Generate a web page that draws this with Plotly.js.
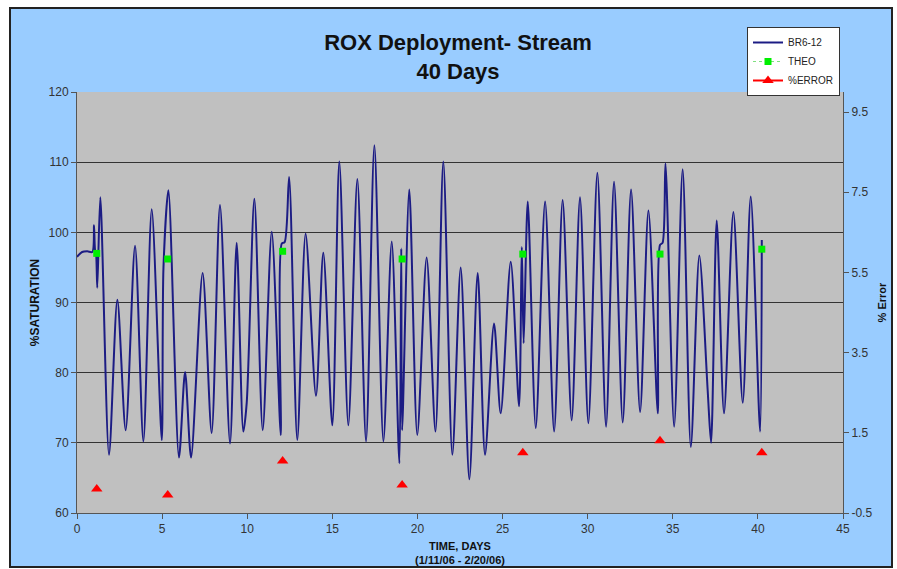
<!DOCTYPE html>
<html><head><meta charset="utf-8">
<script src="https://cdn.plot.ly/plotly-3.0.1.min.js"></script>
<style>
html,body{margin:0;padding:0;background:#fff;}
#frame{position:absolute;left:9px;top:7px;width:880px;height:557px;background:#99ccff;border:2px solid #222;}
#chart{position:absolute;left:0;top:0;width:897px;height:569px;}
</style></head><body>
<div id="frame"></div>
<div id="chart"></div>
<script>
// BR6-12 sensor reading (% saturation) vs time in days
const days = [0.0, 0.3, 0.6, 0.9, 1.0, 1.06, 1.12, 1.19, 1.37, 1.88, 2.37, 2.86, 3.41, 3.90, 4.39, 4.98, 5.08, 5.37,
  5.99, 6.35, 6.70, 7.38, 7.91, 8.40, 8.99, 9.38, 9.77, 9.97, 10.42, 10.91, 11.44, 11.97, 12.03, 12.2, 12.46, 12.94,
  13.43, 14.04, 14.47, 15.0, 15.41, 15.94, 16.47, 16.98, 17.47, 18.0, 18.49, 18.94, 19.05, 19.1, 19.52, 19.99, 20.54,
  21.06, 21.52, 22.05, 22.54, 23.05, 23.54, 23.97, 24.5, 24.89, 25.48, 25.97, 26.13, 26.24, 26.48, 26.95, 27.5, 28.03,
  28.53, 29.06, 29.55, 30.04, 30.57, 31.08, 31.55, 32.06, 32.55, 33.08, 33.57, 34.12, 34.25, 34.4, 34.57, 35.08, 35.58,
  36.06, 36.56, 37.05, 37.25, 37.58, 38.01, 38.56, 39.11, 39.58, 40.13, 40.23];
const saturation = [96.5, 97.2, 97.3, 97.2, 101.0, 97.5, 97.0, 92.1, 105.0, 68.3, 90.4, 71.8, 98.1, 70.2, 103.3, 70.4, 95.0, 106.0,
  67.9, 80.1, 67.9, 94.2, 71.4, 103.9, 69.9, 98.5, 71.6, 75.7, 104.8, 71.8, 100.1, 71.1, 98.4, 98.6, 107.9, 70.4,
  99.8, 76.7, 97.1, 72.5, 110.1, 72.5, 107.6, 70.2, 112.4, 70.2, 98.7, 67.1, 97.7, 71.8, 106.1, 71.1, 96.4,
  71.6, 110.1, 68.3, 95.0, 64.8, 94.2, 68.3, 87.0, 74.2, 95.8, 75.2, 97.9, 84.2, 104.4, 72.1, 104.4, 71.6,
  104.6, 73.2, 105.0, 72.8, 108.5, 72.3, 107.2, 72.9, 106.1, 74.4, 103.1, 74.2, 98.2, 98.5, 109.8, 72.3, 109.0,
  69.4, 96.7, 77.5, 70.0, 101.7, 74.2, 102.9, 75.7, 105.1, 71.6, 98.9];
// Theoretical saturation check points and % error
const checkDays = [1.16, 5.33, 12.08, 19.1, 26.19, 34.25, 40.23];
const theoValues = [97.0, 96.2, 97.3, 96.2, 96.9, 96.9, 97.6];
const errorValues = [0.1, -0.05, 0.8, 0.2, 1.0, 1.3, 1.0];
const xTicks = [0, 5, 10, 15, 20, 25, 30, 35, 40, 45];
const yTicks = [60, 70, 80, 90, 100, 110, 120];
const y2Ticks = [-0.5, 1.5, 3.5, 5.5, 7.5, 9.5];

// isolated points (gap after each so no connecting line, but legend shows line+marker)
function isolate(xs, ys) {
  const ox = [], oy = [];
  xs.forEach((x, i) => { ox.push(x); oy.push(ys[i]); ox.push(x + 0.001); oy.push(null); });
  return {x: ox, y: oy};
}
const theo = isolate(checkDays, theoValues);
const err = isolate(checkDays, errorValues);

const FONT = 'Arial, "Liberation Sans", sans-serif';
const traces = [
  {x: days, y: saturation, type: 'scatter', mode: 'lines', name: 'BR6-12',
   line: {color: '#1c1c84', width: 2, shape: 'spline', smoothing: 0.8}},
  {x: theo.x, y: theo.y, type: 'scatter', mode: 'lines+markers', name: 'THEO', connectgaps: false,
   line: {color: '#80e080', width: 1, dash: 'dot'}, marker: {symbol: 'square', color: '#00ee00', size: 7}},
  {x: err.x, y: err.y, type: 'scatter', mode: 'lines+markers', name: '%ERROR', yaxis: 'y2', connectgaps: false,
   line: {color: '#ff0000', width: 2}, marker: {symbol: 'triangle-up', color: '#ff0000', size: 10}}
];

const layout = {
  width: 897, height: 569,
  margin: {l: 77, r: 54, t: 92, b: 56},
  paper_bgcolor: 'rgba(0,0,0,0)',
  plot_bgcolor: '#c0c0c0',
  font: {family: FONT, size: 12, color: '#333'},
  showlegend: true,
  title: {text: '<b>ROX Deployment- Stream<br>40 Days</b>', font: {family: FONT, size: 22, color: '#111'},
    x: 458 / 897, xref: 'container', y: 1 - 50 / 569, yref: 'container', yanchor: 'middle'},
  xaxis: {range: [0, 45], tickvals: xTicks, ticks: 'outside', ticklen: 5, tickcolor: '#555',
    showline: true, linecolor: '#555', linewidth: 1, showgrid: false, zeroline: false,
    tickfont: {size: 12, color: '#333'},
    title: {text: '<b>TIME, DAYS<br>(1/11/06 - 2/20/06)</b>', font: {size: 11, color: '#111'}, standoff: 6}},
  yaxis: {range: [60, 120], tickvals: yTicks, ticks: 'outside', ticklen: 5, tickcolor: '#555',
    showline: true, linecolor: '#555', linewidth: 1, showgrid: true, gridcolor: '#333', gridwidth: 1, zeroline: false,
    tickfont: {size: 12, color: '#333'},
    title: {text: '<b>%SATURATION</b>', font: {size: 12, color: '#111'}, standoff: 6}},
  yaxis2: {overlaying: 'y', side: 'right', range: [-0.5, 10], tickvals: y2Ticks, ticktext: y2Ticks.map(String),
    ticks: 'outside', ticklen: 5, tickcolor: '#555', showline: true, linecolor: '#555', linewidth: 1,
    showgrid: false, zeroline: false, tickfont: {size: 12, color: '#333'},
    title: {text: '<b>% Error</b>', font: {size: 11, color: '#111'}, standoff: 6}},
  legend: {x: (747 - 77) / 766, y: (513 - 27) / 421, xanchor: 'left', yanchor: 'top',
    bgcolor: '#ffffff', bordercolor: '#333', borderwidth: 1, font: {size: 10, color: '#222'},
    itemwidth: 30, tracegroupgap: 0}
};

Plotly.newPlot('chart', traces, layout, {displayModeBar: false, staticPlot: true});
</script>
</body></html>
